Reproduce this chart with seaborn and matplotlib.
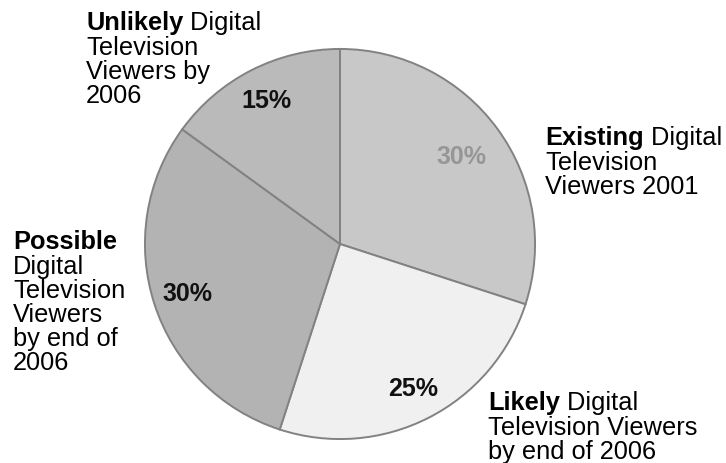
import matplotlib
matplotlib.use("Agg")
import matplotlib.pyplot as plt
import seaborn as sns
import numpy as np

sns.set_theme(style="white")
plt.rcParams["font.family"] = ["Liberation Sans", "DejaVu Sans"]

# Share of viewers per category, drawn clockwise from 12 o'clock
categories = ["Existing", "Likely", "Possible", "Unlikely"]
shares = [30, 25, 30, 15]
pct_labels = ["30%", "25%", "30%", "15%"]
bold_words = ["Existing", "Likely", "Possible", "Unlikely"]
first_line_rest = [" Digital", " Digital", "", " Digital"]
other_lines = [
    "Television\nViewers 2001",
    "Television Viewers\nby end of 2006",
    "Digital\nTelevision\nViewers\nby end of\n2006",
    "Television\nViewers by\n2006",
]

slice_colors = ["#c8c8c8", "#f0f0f0", "#b3b3b3", "#bababa"]
pct_colors = ["#969696", "#111111", "#111111", "#111111"]
pct_dist = [0.77, 0.83, 0.82, 0.83]
# top-left corner of each category label, in pixels
label_xy = [(545, 126), (488, 391), (13, 230), (86, 11)]

W, H = 726, 464
fig = plt.figure(figsize=(W / 100, H / 100), dpi=100)

cx, cy, r = 340, 245, 197
ax = fig.add_axes([(cx - r) / W, (H - cy - r) / H, 2 * r / W, 2 * r / H])
wedges, _ = ax.pie(
    shares,
    colors=slice_colors,
    startangle=90,
    counterclock=False,
    radius=1,
    wedgeprops=dict(edgecolor="#828282", linewidth=1.4),
)
ax.set_xlim(-1.01, 1.01)
ax.set_ylim(-1.01, 1.01)
ax.set_aspect("equal")
ax.axis("off")

for w, lab, col, d in zip(wedges, pct_labels, pct_colors, pct_dist):
    ang = np.deg2rad((w.theta1 + w.theta2) / 2)
    ax.text(d * np.cos(ang), d * np.sin(ang), lab, ha="center", va="center",
            fontsize=18, fontweight="bold", color=col)

fs = 18.3
line_px = 25.3
for (x, y), bw, rest, others in zip(label_xy, bold_words, first_line_rest, other_lines):
    t = fig.text(x / W, 1 - y / H, bw, ha="left", va="top", fontsize=fs,
                 fontweight="bold", color="#000000")
    if rest:
        ax.annotate(rest, xy=(1, 1), xycoords=t, ha="left", va="top",
                    fontsize=fs, color="#000000", annotation_clip=False)
    fig.text(x / W, 1 - (y + line_px) / H, others, ha="left", va="top",
             fontsize=fs, color="#000000", linespacing=1.0)

fig.savefig("out.png", dpi=100, facecolor="white")
